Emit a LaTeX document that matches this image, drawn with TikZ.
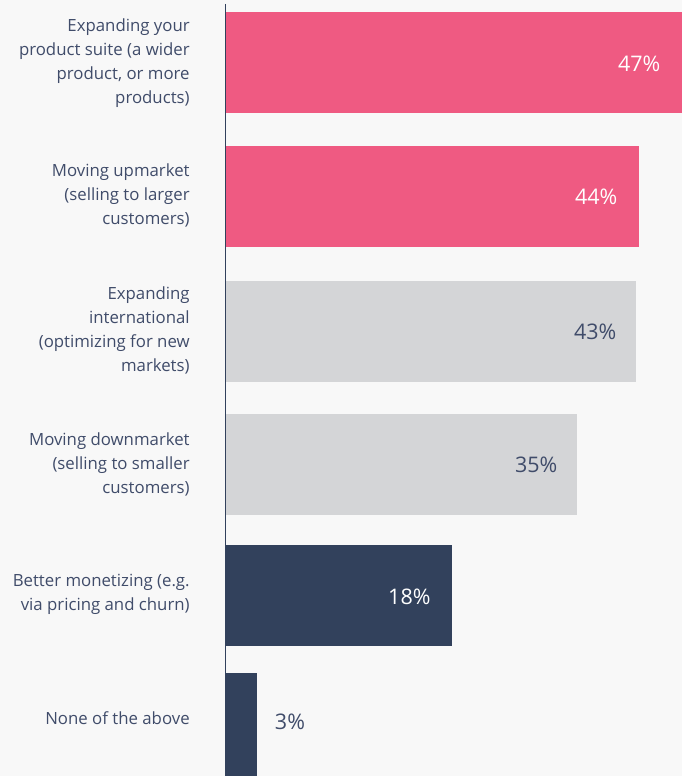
\documentclass[tikz,border=0pt]{standalone}
\usepackage{fontspec}
\setmainfont{Open Sans}
\usetikzlibrary{positioning}
\definecolor{barpink}{RGB}{239, 90, 130}
\definecolor{bargray}{RGB}{212, 213, 215}
\definecolor{barnavy}{RGB}{50, 65, 92}
\definecolor{labelnavy}{RGB}{64, 76, 106}
\definecolor{pagebg}{RGB}{248, 248, 248}

\begin{document}
\begin{tikzpicture}[x=1pt, y=-1pt,
    cat/.style={anchor=east, align=right, inner sep=0pt, text=labelnavy,
        font=\fontsize{16.8}{24}\selectfont},
    pct/.style={inner sep=0pt, font=\fontsize{21.5}{24}\selectfont}]
    \fill[pagebg] (0,0) rectangle (683,777);
    % bars
    \fill[barpink] (226,12) rectangle (683,113);
    \fill[barpink] (226,146) rectangle (639,247);
    \fill[bargray] (226,281) rectangle (636,382);
    \fill[bargray] (226,414) rectangle (577,515);
    \fill[barnavy] (226,545) rectangle (452,646);
    \fill[barnavy] (226,674) rectangle (257,777);
    \draw[barnavy, line width=1.2pt] (226,4) -- (226,777);
    % categories
    \node[cat] (suite) at (190,63) {Expanding your\\product suite (a wider\\product, or more\\products)};
    \node[cat] (upmkt) at (190,196) {Moving upmarket\\(selling to larger\\customers)};
    \node[cat] (intl) at (190,331) {Expanding\\international\\(optimizing for new\\markets)};
    \node[cat] (downmkt) at (190,465) {Moving downmarket\\(selling to smaller\\customers)};
    \node[cat] (monet) at (190,595) {Better monetizing (e.g.\\via pricing and churn)};
    \node[cat] (none) at (190,719) {None of the above};
    % values
    \node[pct, anchor=east, text=white] (v47) at (661,64) {47\%};
    \node[pct, anchor=east, text=white] (v44) at (618,197) {44\%};
    \node[pct, anchor=east, text=labelnavy] (v43) at (617,332) {43\%};
    \node[pct, anchor=east, text=labelnavy] (v35) at (558,465) {35\%};
    \node[pct, anchor=east, text=white] (v18) at (431,597) {18\%};
    \node[pct, anchor=west, text=labelnavy] (v3) at (275,722) {3\%};
\end{tikzpicture}
\end{document}
